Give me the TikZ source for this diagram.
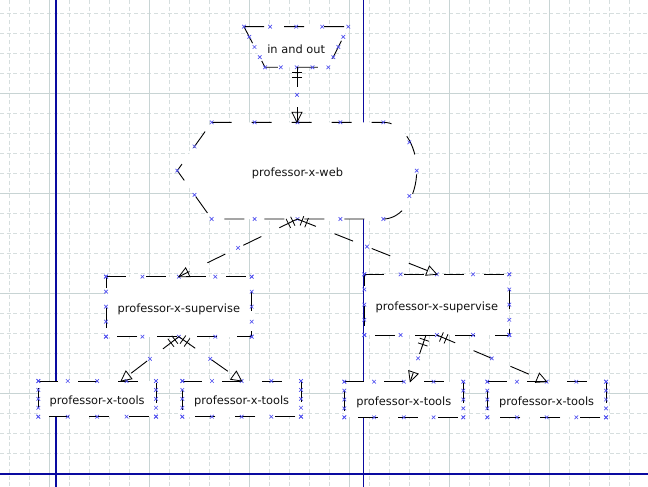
\documentclass[tikz,border=0pt]{standalone}
\usepackage{fontspec}
\newfontfamily\lblfont{DejaVu Sans}
\usetikzlibrary{calc}
\definecolor{gridmin}{RGB}{214,222,222}
\definecolor{gridmaj}{RGB}{200,212,212}
\definecolor{guidec}{RGB}{10,10,160}
\definecolor{markc}{RGB}{80,80,240}
\tikzset{
 mygridminor/.style={draw=gridmin, line width=0.8pt, dash pattern=on 4pt off 2.7pt},
 mygridmajor/.style={draw=gridmaj, line width=0.8pt},
 myguide/.style={draw=guidec, line width=1.1pt},
 myoutline/.style={draw=black, line width=0.9pt, dash pattern=on 20pt off 20pt},
 myconnline/.style={draw=black, line width=0.9pt, dash pattern=on 20pt off 20pt},
 mytip/.style={draw=black, line width=0.8pt, solid},
 myboxnode/.style={rectangle, fill=white, inner sep=0pt, outer sep=0pt,
   font={\lblfont\fontsize{11.4pt}{13pt}\selectfont}, text=black!92,
   text height=12.1pt, text depth=0pt},
 mylblnode/.style={inner sep=0pt, outer sep=0pt,
   font={\lblfont\fontsize{11.4pt}{13pt}\selectfont}, text=black!92,
   text height=12.1pt, text depth=0pt},
 xm/.pic={\draw[draw=markc, line width=0.65pt] (-1.8,-1.8) -- (1.8,1.8) (-1.8,1.8) -- (1.8,-1.8);}
}
\newcommand{\myrectmarks}[1]{%
  \foreach \t in {0,0.25,0.5,0.75,1}{
    \pic at ($(#1.north west)!\t!(#1.north east)$) {xm};
    \pic at ($(#1.south west)!\t!(#1.south east)$) {xm};
    \pic at ($(#1.north west)!\t!(#1.south west)$) {xm};
    \pic at ($(#1.north east)!\t!(#1.south east)$) {xm};
  }}
\newcommand{\myrectoutline}[1]{%
  \draw[myoutline] (#1.north west) -- (#1.north east) -- (#1.south east) -- (#1.south west) -- cycle;}
\newcommand{\myconn}[2]{%
  \draw[myconnline] (#1) -- (#2);
  \coordinate (cA1) at ($(#1)!5pt!(#2)$);
  \coordinate (cA2) at ($(#1)!10pt!(#2)$);
  \draw[mytip] ($(cA1)!5pt!90:(#2)$) -- ($(cA1)!5pt!-90:(#2)$);
  \draw[mytip] ($(cA2)!5pt!90:(#2)$) -- ($(cA2)!5pt!-90:(#2)$);
  \coordinate (cB) at ($(#2)!10pt!(#1)$);
  \draw[mytip] (#2) -- ($(cB)!5pt!90:(#1)$) -- ($(cB)!5pt!-90:(#1)$) -- cycle;
  \pic at ($(#1)!0.5!(#2)$) {xm};
}
\begin{document}
\begin{tikzpicture}[x=1pt,y=-1pt]
\useasboundingbox (0,0) rectangle (648,487);
\fill[white] (0,0) rectangle (648,487);
% grid
\foreach \i in {0,...,31} \draw[mygridminor] ({9.3+20*\i},0) -- ({9.3+20*\i},487);
\foreach \j in {0,...,23} \draw[mygridminor] (0,{13.3+20*\j}) -- (648,{13.3+20*\j});
\foreach \i in {0,...,5} \draw[mygridmajor] ({49.3+100*\i},0) -- ({49.3+100*\i},487);
\foreach \j in {0,...,3} \draw[mygridmajor] (0,{93.3+100*\j}) -- (648,{93.3+100*\j});
% guides
\draw[myguide] (56,0) -- (56,487);
\draw[myguide] (363.3,0) -- (363.3,487);
\draw[myguide] (0,474) -- (648,474);

% in and out (trapezoid)
\fill[white] (244,26.7) -- (348.3,26.7) -- (328.3,67.3) -- (265,67.3) -- cycle;
\draw[myoutline] (244,26.7) -- (348.3,26.7) -- (328.3,67.3) -- (265,67.3) -- cycle;
\node[mylblnode] (inout) at (296.2,47) {in and out};
\coordinate (inout-s) at (297,67.3);
\foreach \x in {244,270.1,296.2,322.2,348.3} \pic at (\x,26.7) {xm};
\foreach \x in {265,280.8,296.7,312.5,328.3} \pic at (\x,67.3) {xm};
\foreach \p in {(249.25,36.85),(254.5,47),(259.75,57.15),(343.3,36.85),(338.3,47),(333.3,57.15)} \pic at \p {xm};

% professor-x-web (display shape)
\path[fill=white] (211.7,122.3) -- (383.3,122.3) .. controls (401.75,122.3) and (416.7,143.95) .. (416.7,170.65)
  .. controls (416.7,197.35) and (401.75,219) .. (383.3,219) -- (211.7,219) -- (177.3,170.65) -- cycle;
\draw[myoutline] (211.7,122.3) -- (383.3,122.3) .. controls (401.75,122.3) and (416.7,143.95) .. (416.7,170.65)
  .. controls (416.7,197.35) and (401.75,219) .. (383.3,219) -- (211.7,219) -- (177.3,170.65) -- cycle;
\node[mylblnode] (web) at (297.5,170.65) {professor-x-web};
\coordinate (web-n) at (297,122.3);
\coordinate (web-s) at (297.3,219);
\foreach \x in {211.7,254.6,297.5,340.4,383.3} {\pic at (\x,122.3) {xm}; \pic at (\x,219) {xm};}
\foreach \p in {(194.5,146.5),(177.3,170.65),(194.5,194.8),(409.3,142.3),(416.7,170.65),(409.3,196)} \pic at \p {xm};

% supervise boxes
\node[myboxnode, minimum width=145.7pt, minimum height=60pt] (s1) at (178.85,306.7) {professor-x-supervise};
\node[myboxnode, minimum width=145pt, minimum height=60.7pt] (s2) at (436.8,304.65) {professor-x-supervise};
% tools boxes
\node[myboxnode, minimum width=117.7pt, minimum height=35.7pt] (t1) at (97.15,398.85) {professor-x-tools};
\node[myboxnode, minimum width=118.7pt, minimum height=35.7pt] (t2) at (241.65,398.85) {professor-x-tools};
\node[myboxnode, minimum width=119pt, minimum height=35.6pt] (t3) at (403.8,399.5) {professor-x-tools};
\node[myboxnode, minimum width=118.7pt, minimum height=35.6pt] (t4) at (546.65,399.5) {professor-x-tools};
\foreach \n in {s1,s2,t1,t2,t3,t4} {\myrectoutline{\n}}
\foreach \n in {s1,s2,t1,t2,t3,t4} {\myrectmarks{\n}}

\coordinate (t1in) at ([xshift=23.85pt]t1.north);
\coordinate (s2out) at ([xshift=-10.8pt]s2.south);
\coordinate (t3in) at ([xshift=6.4pt]t3.north);

% connectors
\myconn{inout-s}{web-n}
\myconn{web-s}{s1.north}
\myconn{web-s}{s2.north}
\myconn{s1.south}{t1in}
\myconn{s1.south}{t2.north}
\myconn{s2out}{t3in}
\myconn{s2.south}{t4.north}
\end{tikzpicture}
\end{document}
